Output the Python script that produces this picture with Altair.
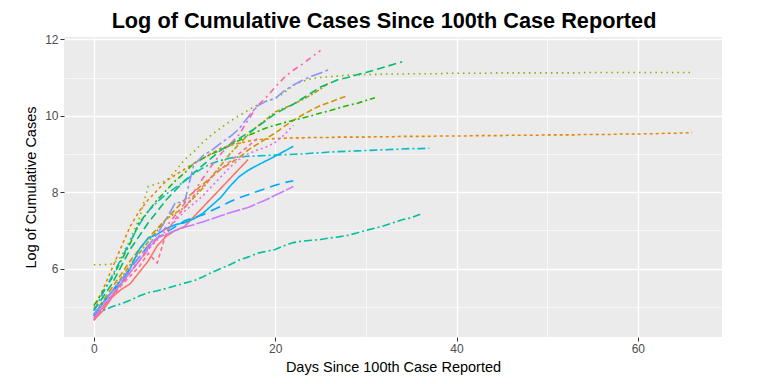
import altair as alt
import pandas as pd

# Log of cumulative cases by day since the 100th reported case
s_salmon = [4.65, 4.9, 5.25, 5.45, 5.6, 5.9, 6.2, 6.6, 6.85, 7.0, 7.1, 7.35, 7.6, 7.85, 8.1, 8.35, 8.6, 8.85]
s_orange = [4.95, 5.45, 6.0, 6.55, 7.1, 7.5, 7.8, 8.05, 8.3, 8.45, 8.6, 8.75, 8.88, 9.02, 9.15, 9.22, 9.28, 9.33,
            9.37, 9.39, 9.4, 9.41, 9.42, 9.42, 9.43, 9.43, 9.43, 9.44, 9.44, 9.44, 9.44,
            9.45, 9.45, 9.45, 9.46, 9.46, 9.46, 9.46, 9.47, 9.47, 9.47,
            9.47, 9.48, 9.48, 9.48, 9.48, 9.49, 9.49, 9.49, 9.49, 9.5,
            9.5, 9.5, 9.5, 9.51, 9.51, 9.51, 9.51, 9.52, 9.52, 9.52,
            9.53, 9.53, 9.54, 9.54, 9.55, 9.56]
s_darkgold = [4.8, 5.15, 5.5, 5.85, 6.2, 6.5, 6.8, 7.05, 7.3, 7.55, 7.8, 8.0, 8.2, 8.4, 8.6, 8.75, 8.9, 9.1, 9.25,
              9.4, 9.55, 9.72, 9.88, 10.02, 10.15, 10.27, 10.35, 10.44, 10.53]
s_gold = [4.75, 5.1, 5.4, 5.75, 6.1, 6.4, 6.7, 7.0, 7.3, 7.45, 7.6, 7.85, 8.1, 8.4, 8.7, 9.0, 9.25, 9.5, 9.72,
          9.9, 10.1, 10.2, 10.3, 10.42, 10.55, 10.7, 10.87]
s_olive = [6.1, 6.1, 6.12, 6.3, 6.75, 7.3, 8.15, 8.22, 8.3, 8.55, 8.85, 9.05, 9.3, 9.5, 9.68, 9.85, 10.0, 10.14,
           10.28, 10.38, 10.45, 10.6, 10.8, 10.9, 10.97, 11.0, 11.02, 11.04, 11.06, 11.07, 11.08,
           11.08, 11.09, 11.09, 11.09, 11.1, 11.1, 11.1, 11.1, 11.11, 11.11,
           11.11, 11.11, 11.11, 11.12, 11.12, 11.12, 11.12, 11.12, 11.12, 11.12,
           11.12, 11.12, 11.12, 11.13, 11.13, 11.13, 11.13, 11.13, 11.13, 11.13,
           11.13, 11.13, 11.13, 11.13, 11.13, 11.13]
s_green = [5.03, 5.4, 5.75, 6.2, 6.65, 7.2, 7.5, 7.8, 8.05, 8.3, 8.5, 8.75, 8.88, 9.0, 9.1, 9.22, 9.35, 9.48,
           9.58, 9.68, 9.75, 9.82, 9.88, 9.94, 10.0, 10.07, 10.13, 10.2, 10.27, 10.32, 10.4, 10.47]
s_seagreen = [4.9, 5.25, 5.6, 6.05, 6.5, 6.85, 7.2, 7.5, 7.8, 8.05, 8.3, 8.5, 8.7, 8.9, 9.1, 9.25, 9.4, 9.55, 9.7,
              9.88, 10.05, 10.18, 10.3, 10.45, 10.6, 10.75, 10.85, 10.95, 11.0, 11.07, 11.13, 11.2, 11.27,
              11.34, 11.41]
s_teal = [4.77, 4.9, 5.0, 5.08, 5.17, 5.28, 5.37, 5.42, 5.48, 5.55, 5.62, 5.68, 5.78, 5.9, 6.0, 6.1, 6.22, 6.3,
          6.4, 6.45, 6.5, 6.6, 6.68, 6.72, 6.74, 6.76, 6.8, 6.83, 6.87, 6.93, 7.0, 7.06, 7.12, 7.2, 7.28,
          7.33, 7.42]
s_cyan = [4.9, 5.35, 5.8, 6.25, 6.7, 7.15, 7.5, 7.75, 7.95, 8.12, 8.28, 8.48, 8.63, 8.75, 8.83, 8.89, 8.92,
          8.94, 8.95, 8.96, 8.97, 8.98, 8.99, 9.0, 9.02, 9.03, 9.05, 9.06, 9.07, 9.08, 9.09, 9.1, 9.11,
          9.12, 9.13, 9.14, 9.14, 9.15]
s_blue = [4.75, 5.1, 5.4, 5.6, 6.0, 6.5, 6.8, 6.9, 7.05, 7.15, 7.2, 7.3, 7.44, 7.65, 7.86, 8.15, 8.4, 8.57,
          8.7, 8.82, 8.94, 9.07, 9.2]
s_azure = [4.8, 5.1, 5.4, 5.7, 6.0, 6.3, 6.6, 6.8, 6.95, 7.1, 7.25, 7.33, 7.4, 7.52, 7.63, 7.75, 7.85, 7.93,
           8.02, 8.1, 8.18, 8.25, 8.3]
s_periwinkle = [4.8, 5.1, 5.4, 5.7, 6.0, 6.3, 6.6, 6.9, 7.3, 7.73, 7.73, 8.7, 8.95, 9.1, 9.28, 9.45, 9.65,
                9.96, 10.25, 10.38, 10.45, 10.65, 10.8, 10.93, 11.03, 11.12, 11.21]
s_purple = [4.7, 5.0, 5.3, 5.6, 5.9, 6.2, 6.55, 6.8, 6.9, 7.0, 7.08, 7.15, 7.22, 7.3, 7.38, 7.46, 7.53, 7.6,
            7.7, 7.8, 7.92, 8.03, 8.15]
s_magenta = [4.7, 5.0, 5.3, 5.6, 5.9, 6.2, 6.5, 6.75, 7.0, 7.25, 7.5, 7.7, 7.9, 8.15, 8.4, 8.65, 8.85, 9.0,
             9.1, 9.18, 9.3, 9.5, 9.75]
s_hotpink = [4.65, 5.0, 5.3, 5.6, 5.9, 6.2, 6.5, 6.8, 7.1, 7.4, 7.7, 8.0, 8.35, 8.7, 9.0, 9.25, 9.5, 9.88,
             10.25, 10.48, 10.75, 11.0, 11.19, 11.35, 11.53, 11.71]
s_pink = [4.65, 4.95, 5.25, 5.55, 5.8, 6.05, 6.4, 6.15, 6.95, 7.3, 7.6, 7.9, 8.15, 8.4, 8.6, 8.8, 9.0, 9.2, 9.4]

series_names = ["S01", "S02", "S03", "S04", "S05", "S06", "S07", "S08",
                "S09", "S10", "S11", "S12", "S13", "S14", "S15", "S16"]
series_values = [s_salmon, s_orange, s_darkgold, s_gold, s_olive, s_green, s_seagreen, s_teal,
                 s_cyan, s_blue, s_azure, s_periwinkle, s_purple, s_magenta, s_hotpink, s_pink]
series_colors = ["#F8766D", "#E58700", "#D39200", "#BE9C00", "#93AA00", "#24B700", "#00BE70", "#00C19A",
                 "#00BFC4", "#00B4F0", "#00A5FF", "#8B93FF", "#C77CFF", "#E76BF3", "#FF62A8", "#FF6C91"]
series_dashes = [[1, 0], [3, 3], [6, 3], [5, 2, 2, 2], [1.5, 4], [6, 3, 2, 3], [8, 4], [8, 3, 2, 3],
                 [8, 3, 2, 3], [1, 0], [10, 6], [12, 3, 3, 3], [14, 2], [2, 3], [6, 4, 2, 4], [4, 3]]

title_text = "Log of Cumulative Cases Since 100th Case Reported"

rows = []
for name, vals in zip(series_names, series_values):
    for d, v in enumerate(vals):
        rows.append({"series": name, "day": d, "logcases": v})
df = pd.DataFrame(rows)

major_x = "datum.value % 20 === 0"
major_y = "datum.value % 2 === 0"

lines = alt.Chart(df).mark_line(strokeWidth=1.6, clip=True).encode(
    x=alt.X("day:Q",
            scale=alt.Scale(domain=[-3.29, 69.28], nice=False, zero=False),
            axis=alt.Axis(values=[0, 10, 20, 30, 40, 50, 60],
                          title="Days Since 100th Case Reported",
                          labelExpr="datum.value % 20 === 0 ? datum.label : ''",
                          tickColor={"condition": {"test": major_x, "value": "#333333"}, "value": "transparent"},
                          gridWidth={"condition": {"test": major_x, "value": 1.3}, "value": 0.6})),
    y=alt.Y("logcases:Q",
            scale=alt.Scale(domain=[4.21, 12.06], nice=False, zero=False),
            axis=alt.Axis(values=[5, 6, 7, 8, 9, 10, 11, 12],
                          title="Log of Cumulative Cases",
                          labelExpr="datum.value % 2 === 0 ? datum.label : ''",
                          tickColor={"condition": {"test": major_y, "value": "#333333"}, "value": "transparent"},
                          gridWidth={"condition": {"test": major_y, "value": 1.3}, "value": 0.6})),
    color=alt.Color("series:N", scale=alt.Scale(domain=series_names, range=series_colors), legend=None),
    strokeDash=alt.StrokeDash("series:N", scale=alt.Scale(domain=series_names, range=series_dashes), legend=None),
    detail="series:N",
)

title_mark = alt.Chart(pd.DataFrame({"t": [title_text]})).mark_text(
    fontSize=21.7, fontWeight="bold", font="Liberation Sans", color="black",
    align="center", baseline="alphabetic"
).encode(
    x=alt.value(320),
    y=alt.value(-9),
    text="t:N",
)

chart = alt.layer(lines, title_mark).properties(
    width=658,
    height=300,
    autosize=alt.AutoSizeParams(type="none"),
    padding={"left": 56, "top": 29, "right": 30, "bottom": 38},
).configure_view(
    fill="#EBEBEB", stroke=None
).configure_axis(
    domain=False,
    gridColor="white",
    tickSize=4,
    tickWidth=1,
    labelFont="Liberation Sans",
    labelFontSize=12,
    labelColor="#4D4D4D",
    labelPadding=2,
    titleFont="Liberation Sans",
    titleFontSize=14.5,
    titleFontWeight="normal",
    titleColor="black",
).configure_axisY(titlePadding=6).configure_axisX(titlePadding=6)

chart.save("out.html", embed_options={"renderer": "svg", "actions": False})
